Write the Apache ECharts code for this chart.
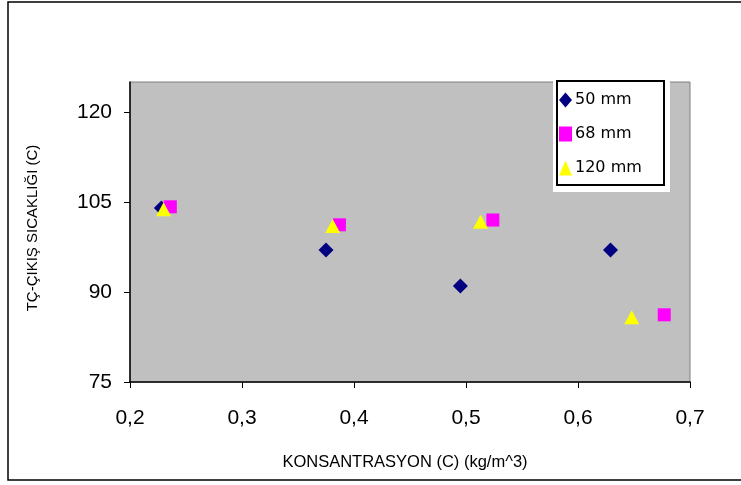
<!DOCTYPE html>
<html>
<head>
<meta charset="utf-8">
<script src="https://cdn.jsdelivr.net/npm/echarts@6/dist/echarts.min.js"></script>
<style>
  html, body { margin: 0; padding: 0; background: #fff; }
  #main { width: 741px; height: 485px; }
</style>
</head>
<body>
<div id="main"></div>
<script>
// series data: [konsantrasyon, sicaklik]
var seriesNames = ['50 mm', '68 mm', '120 mm'];
var data50 = [[0.228, 104], [0.375, 97], [0.495, 91], [0.629, 97]];
var data68 = [[0.236, 104.2], [0.387, 101.2], [0.524, 102], [0.677, 86.2]];
var data120 = [[0.230, 103.8], [0.381, 101], [0.513, 101.7], [0.648, 85.8]];
var yTicks = [75, 90, 105, 120];

var chart = echarts.init(document.getElementById('main'), null, { renderer: 'canvas' });

var option = {
  animation: false,
  backgroundColor: '#ffffff',
  textStyle: { fontFamily: 'Liberation Sans, Arial, sans-serif', color: '#000' },
  graphic: [
    {
      type: 'rect',
      shape: { x: 8, y: 2, width: 745, height: 478 },
      style: { fill: 'none', stroke: '#000', lineWidth: 1.5 },
      silent: true
    },
    // legend box: white margin + black frame
    {
      type: 'rect',
      shape: { x: 553, y: 78, width: 117, height: 114 },
      style: { fill: '#ffffff', stroke: null },
      z: 5,
      silent: true
    },
    {
      type: 'rect',
      shape: { x: 557, y: 81, width: 107, height: 104 },
      style: { fill: '#ffffff', stroke: '#000', lineWidth: 2 },
      z: 6,
      silent: true
    }
  ],
  grid: {
    left: 130, right: 51, top: 82, bottom: 103,
    show: true,
    backgroundColor: '#c0c0c0',
    borderColor: '#808080',
    borderWidth: 1
  },
  legend: {
    orient: 'vertical',
    left: 559, top: 92,
    padding: 0,
    itemGap: 18,
    itemWidth: 13,
    itemHeight: 15,
    z: 10,
    textStyle: { fontSize: 16, fontFamily: 'DejaVu Sans', color: '#000', padding: [0, 0, 0, -2] },
    data: [
      { name: seriesNames[0], icon: 'diamond' },
      { name: seriesNames[1], icon: 'rect' },
      { name: seriesNames[2], icon: 'triangle' }
    ]
  },
  xAxis: {
    type: 'value',
    min: 0.2, max: 0.7, interval: 0.1,
    name: 'KONSANTRASYON (C) (kg/m^3)',
    nameLocation: 'middle',
    nameGap: 72,
    nameTextStyle: { fontSize: 16.5, color: '#000', padding: [0, 10, 0, 0] },
    axisLine: { show: true, onZero: false, lineStyle: { color: '#000', width: 1.5 } },
    axisTick: { show: true, length: 6, lineStyle: { color: '#000' } },
    axisLabel: {
      fontSize: 21, color: '#000', margin: 26,
      formatter: function (v) { return v.toFixed(1).replace('.', ','); }
    },
    splitLine: { show: false }
  },
  yAxis: {
    type: 'value',
    min: 75, max: 125, interval: 15,
    name: 'TÇ-ÇIKIŞ SICAKLIĞI (C)',
    nameLocation: 'middle',
    nameGap: 90,
    nameRotate: 90,
    nameTextStyle: { fontSize: 15, color: '#000', padding: [0, 0, 0, 8] },
    axisLine: { show: true, onZero: false, lineStyle: { color: '#000', width: 1.5 } },
    axisTick: { show: true, length: 6, customValues: yTicks, lineStyle: { color: '#000' } },
    axisLabel: { fontSize: 21, color: '#000', margin: 18, customValues: yTicks },
    splitLine: { show: false }
  },
  series: [
    {
      name: seriesNames[0],
      type: 'scatter',
      symbol: 'diamond',
      symbolSize: 15,
      itemStyle: { color: '#000080', opacity: 1 },
      data: data50
    },
    {
      name: seriesNames[1],
      type: 'scatter',
      symbol: 'rect',
      symbolSize: 13,
      itemStyle: { color: '#ff00ff', opacity: 1 },
      data: data68
    },
    {
      name: seriesNames[2],
      type: 'scatter',
      symbol: 'triangle',
      symbolSize: [15, 14],
      itemStyle: { color: '#ffff00', opacity: 1 },
      data: data120
    }
  ]
};

chart.setOption(option);
</script>
</body>
</html>
